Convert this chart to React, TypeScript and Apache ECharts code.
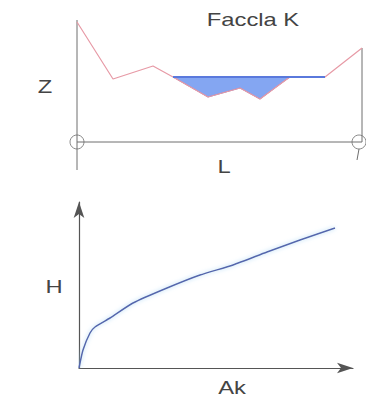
import { useEffect, useRef } from "react";
import * as echarts from "echarts";

// Top panel: cross-section "Faccla K" (distance along L, elevation Z)
const profileL = [0, 36, 76, 96, 131, 163, 183, 206, 213, 248, 285];
const profileZ = [120, 63, 76, 65, 45, 54, 43, 60, 65, 65, 94];
const bedL = [96, 131, 163, 183, 206, 213];
const bedZ = [65, 45, 54, 43, 60, 65];
const waterLevel = 65;
const waterFrom = 96;
const waterTo = 248;
const gaugeL = [0, 282];

// Bottom panel: stage–area curve H(Ak)
const curveAk = [0, 4, 11, 16, 31, 54, 88, 121, 154, 188, 221, 256];
const curveH = [0, 18, 35, 41, 50, 65, 80, 93, 103, 116, 128, 140];

// Labels
const titleText = "Faccla K";
const zLabel = "Z";
const lLabel = "L";
const hLabel = "H";
const akLabel = "Ak";

export default function App() {
  const ref = useRef<HTMLDivElement>(null);
  useEffect(() => {
    const chart = echarts.init(ref.current!, null, { renderer: "svg" });
    const grey = "#6e6e6e";
    const profile = profileL.map((x, i) => [x, profileZ[i]]);
    const bed = bedL.map((x, i) => [x, bedZ[i]]);
    const waterPoly = [[waterFrom, waterLevel], ...bed, [waterTo, waterLevel]];
    const curve = curveAk.map((x, i) => [x, curveH[i]]);
    const maxL = profileL[profileL.length - 1];
    const font = "19px 'Liberation Sans', Arial";
    const label = (text: string, x: number, y: number) => ({
      type: "text", x, y, scaleX: 1.25,
      style: { text, font, fill: "#444", align: "center", verticalAlign: "middle" },
    });

    chart.setOption({
      animation: false,
      grid: [
        { left: 77, top: 20, width: 285, height: 152 },
        { left: 79, top: 202, width: 274, height: 166 },
      ],
      xAxis: [
        { type: "value", gridIndex: 0, min: 0, max: 285, show: false },
        {
          type: "value", gridIndex: 1, min: 0, max: 274,
          axisLine: { show: true, symbol: ["none", "arrow"], symbolSize: [8, 16], lineStyle: { color: "#555", width: 1.2 } },
          axisTick: { show: false }, axisLabel: { show: false }, splitLine: { show: false },
        },
      ],
      yAxis: [
        { type: "value", gridIndex: 0, min: -30, max: 122, show: false },
        {
          type: "value", gridIndex: 1, min: 0, max: 166,
          axisLine: { show: true, symbol: ["none", "arrow"], symbolSize: [8, 16], lineStyle: { color: "#555", width: 1.2 } },
          axisTick: { show: false }, axisLabel: { show: false }, splitLine: { show: false },
        },
      ],
      series: [
        // frame
        { type: "line", xAxisIndex: 0, yAxisIndex: 0, data: [[0, -28], [0, 122]], symbol: "none", lineStyle: { color: grey, width: 1 } },
        { type: "line", xAxisIndex: 0, yAxisIndex: 0, data: [[maxL, 0], [maxL, 94]], symbol: "none", lineStyle: { color: grey, width: 1 } },
        { type: "line", xAxisIndex: 0, yAxisIndex: 0, data: [[0, 0], [maxL, 0]], symbol: "none", lineStyle: { color: grey, width: 1 } },
        { type: "line", xAxisIndex: 0, yAxisIndex: 0, data: [[gaugeL[1], -7], [gaugeL[1] - 2, -18]], symbol: "none", lineStyle: { color: grey, width: 1 } },
        {
          type: "scatter", xAxisIndex: 0, yAxisIndex: 0,
          data: gaugeL.map((x) => [x, 0]), symbol: "circle", symbolSize: 14,
          itemStyle: { color: "rgba(255,255,255,0)", borderColor: grey, borderWidth: 1 },
        },
        // terrain
        { type: "line", xAxisIndex: 0, yAxisIndex: 0, data: profile, symbol: "none", lineStyle: { color: "#e79aa6", width: 1.2 } },
        // water body
        {
          type: "custom", xAxisIndex: 0, yAxisIndex: 0, data: [0],
          renderItem: (_params: any, api: any) => ({
            type: "polygon",
            shape: { points: waterPoly.map((p) => api.coord(p)) },
            style: { fill: "#84a6f2", stroke: "#8d82c6", lineWidth: 1 },
          }),
        },
        { type: "line", xAxisIndex: 0, yAxisIndex: 0, data: [[waterFrom, waterLevel], [waterTo, waterLevel]], symbol: "none", lineStyle: { color: "#5a79dc", width: 2 } },
        // H - Ak curve
        {
          type: "line", xAxisIndex: 1, yAxisIndex: 1, data: curve, symbol: "none", smooth: 0.2,
          lineStyle: { color: "#5566ad", width: 1.5, shadowColor: "#a8d4f5", shadowBlur: 4 },
        },
      ],
      graphic: [
        label(titleText, 253, 20),
        label(zLabel, 45, 87),
        label(lLabel, 224, 167),
        label(hLabel, 54, 287),
        label(akLabel, 232, 388),
      ],
    });
    return () => chart.dispose();
  }, []);
  return <div ref={ref} style={{ position: "fixed", left: 0, top: 0, width: 366, height: 398, background: "#fff" }} />;
}
